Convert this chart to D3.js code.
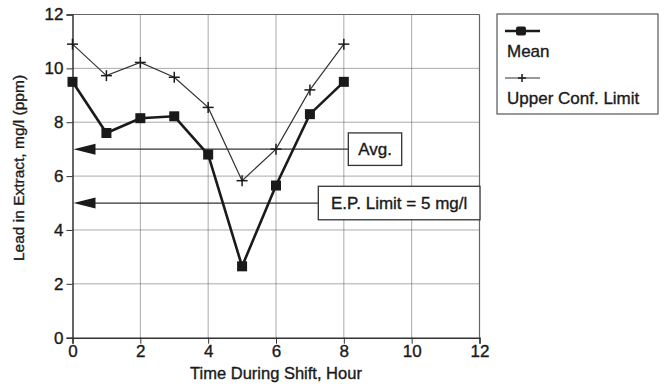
<!DOCTYPE html>
<html>
<head>
<meta charset="utf-8">
<script src="https://cdn.jsdelivr.net/npm/d3@7"></script>
<style>
  html, body { margin: 0; padding: 0; background: #fff; }
  svg { display: block; font-family: "Liberation Sans", Arial, Helvetica, sans-serif; }
  svg text { stroke: #1a1a1a; stroke-width: 0.35px; }
</style>
</head>
<body>
<svg id="chart" width="666" height="387"></svg>
<script>
// ---- data ----
const hours = [0, 1, 2, 3, 4, 5, 6, 7, 8];
const meanValues = [9.5, 7.6, 8.15, 8.22, 6.8, 2.65, 5.65, 8.3, 9.5];
const uclValues = [10.9, 9.73, 10.22, 9.67, 8.55, 5.83, 7.0, 9.2, 10.9];
const xTicks = [0, 2, 4, 6, 8, 10, 12];
const yTicks = [0, 2, 4, 6, 8, 10, 12];
const refLabels = ["Avg.", "E.P. Limit = 5 mg/l"];
const refValues = [7, 5];
const seriesNames = ["Mean", "Upper Conf. Limit"];
const xTitle = "Time During Shift, Hour";
const yTitle = "Lead in Extract, mg/l (ppm)";

// ---- layout ----
const svg = d3.select("#chart");
const pL = 72.5, pR = 479.5, pT = 14.5, pB = 337.7;
const x = d3.scaleLinear().domain([0, 12]).range([pL, pR]);
const y = d3.scaleLinear().domain([0, 12]).range([pB, pT]);
const ink = "#1a1a1a";

// grid
const grid = svg.append("g");
grid.selectAll("line.gx").data(xTicks.filter(d => d > 0 && d < 12)).join("line")
  .attr("x1", d => x(d)).attr("x2", d => x(d)).attr("y1", pT).attr("y2", pB)
  .attr("stroke", "#555").attr("stroke-width", 1).attr("stroke-dasharray", "1,1");
grid.selectAll("line.gy").data(yTicks.filter(d => d > 0 && d < 12)).join("line")
  .attr("x1", pL).attr("x2", pR).attr("y1", d => y(d)).attr("y2", d => y(d))
  .attr("stroke", "#555").attr("stroke-width", 1).attr("stroke-dasharray", "1,1");

// frame top / right
svg.append("line").attr("x1", pL).attr("x2", pR).attr("y1", pT).attr("y2", pT)
  .attr("stroke", "#666").attr("stroke-width", 1.2);
svg.append("line").attr("x1", pR).attr("x2", pR).attr("y1", pT).attr("y2", pB)
  .attr("stroke", "#666").attr("stroke-width", 1.2);

// axes
const xAxis = d3.axisBottom(x).tickValues(xTicks).tickSize(6).tickFormat(d3.format("d"));
const yAxis = d3.axisLeft(y).tickValues(yTicks).tickSize(6).tickFormat(d3.format("d"));
const gx = svg.append("g").attr("transform", `translate(0,${pB})`).call(xAxis);
const gy = svg.append("g").attr("transform", `translate(${pL},0)`).call(yAxis);
[gx, gy].forEach(g => {
  g.select(".domain").attr("stroke", "#333").attr("stroke-width", 1.5);
  g.selectAll(".tick line").attr("stroke", "#333").attr("stroke-width", 1);
  g.selectAll(".tick text").attr("fill", ink).attr("font-size", 17).attr("font-family", "Liberation Sans, Arial, sans-serif");
});
gx.selectAll(".tick text").attr("y", 8).attr("dy", "0.68em");
gy.selectAll(".tick text").attr("x", -9);

// axis titles
svg.append("text").attr("x", (pL + pR) / 2).attr("y", 379)
  .attr("text-anchor", "middle").attr("font-size", 16.5).attr("fill", ink).text(xTitle);
svg.append("text").attr("transform", `translate(24,168) rotate(-90)`)
  .attr("text-anchor", "middle").attr("font-size", 15.5).attr("fill", ink).text(yTitle);

// reference arrows & boxes
const boxX = [348.3, 318.3];
const boxW = [53.4, 161.7];
const boxH = [32.5, 33.5];
refValues.forEach((v, i) => {
  const yy = y(v);
  svg.append("line").attr("x1", pL + 20).attr("x2", boxX[i]).attr("y1", yy).attr("y2", yy)
    .attr("stroke", "#333").attr("stroke-width", 1.3);
  svg.append("path")
    .attr("d", `M${pL + 1},${yy} L${pL + 23},${yy - 5.5} L${pL + 23},${yy + 5.5} Z`)
    .attr("fill", ink);
  svg.append("rect").attr("x", boxX[i]).attr("y", yy - boxH[i] / 2)
    .attr("width", boxW[i]).attr("height", boxH[i])
    .attr("fill", "#fff").attr("stroke", "#333").attr("stroke-width", 1.3);
  svg.append("text").attr("x", boxX[i] + boxW[i] / 2).attr("y", yy + 6)
    .attr("text-anchor", "middle").attr("font-size", 17).attr("fill", ink).text(refLabels[i]);
});

// series
const pts = (vals) => hours.map((h, i) => [x(h), y(vals[i])]);
const line = d3.line();
svg.append("path").attr("d", line(pts(uclValues))).attr("fill", "none")
  .attr("stroke", "#333").attr("stroke-width", 1.2);
svg.append("path").attr("d", line(pts(meanValues))).attr("fill", "none")
  .attr("stroke", ink).attr("stroke-width", 2.6);

const plus = (g, cx, cy, s) => {
  g.append("line").attr("x1", cx - s).attr("x2", cx + s).attr("y1", cy).attr("y2", cy)
    .attr("stroke", ink).attr("stroke-width", 1.5);
  g.append("line").attr("x1", cx).attr("x2", cx).attr("y1", cy - s).attr("y2", cy + s)
    .attr("stroke", ink).attr("stroke-width", 1.5);
};
const gm = svg.append("g");
pts(uclValues).forEach(p => plus(gm, p[0], p[1], 5.5));
svg.append("g").selectAll("rect").data(pts(meanValues)).join("rect")
  .attr("x", d => d[0] - 5).attr("y", d => d[1] - 5).attr("width", 10).attr("height", 10)
  .attr("fill", ink);

// legend
const lg = svg.append("g");
lg.append("rect").attr("x", 497).attr("y", 14).attr("width", 161).attr("height", 100)
  .attr("fill", "#fff").attr("stroke", "#555").attr("stroke-width", 1.2);
lg.append("line").attr("x1", 505).attr("x2", 540).attr("y1", 31).attr("y2", 31)
  .attr("stroke", ink).attr("stroke-width", 2.6);
lg.append("rect").attr("x", 516).attr("y", 26.5).attr("width", 10).attr("height", 9).attr("rx", 2).attr("fill", ink);
lg.append("text").attr("x", 507).attr("y", 57).attr("font-size", 17).attr("fill", ink).text(seriesNames[0]);
lg.append("line").attr("x1", 505).attr("x2", 540).attr("y1", 78).attr("y2", 78)
  .attr("stroke", "#333").attr("stroke-width", 1.2);
plus(lg, 522, 78, 4);
lg.append("text").attr("x", 507).attr("y", 104).attr("font-size", 17).attr("fill", ink).text(seriesNames[1]);
</script>
</body>
</html>
